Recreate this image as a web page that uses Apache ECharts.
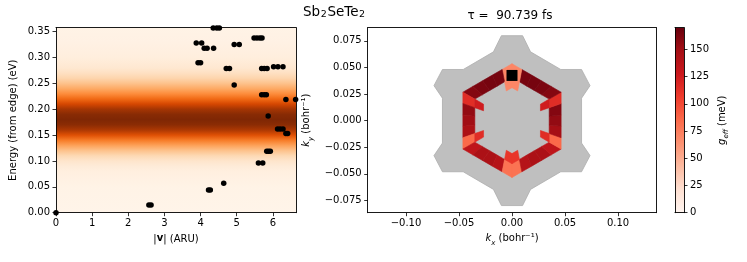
<!DOCTYPE html>
<html><head><meta charset="utf-8">
<script src="https://cdn.jsdelivr.net/npm/echarts@6/dist/echarts.min.js"></script>
<style>html,body{margin:0;padding:0;background:#fff}#c{width:747px;height:262px}</style>
</head><body><div id="c"></div>
<script>
// ---------------- data ----------------
const speedTicks  = [0, 1, 2, 3, 4, 5, 6];
const energyTicks = [0, 0.05, 0.10, 0.15, 0.20, 0.25, 0.30, 0.35];
const kxTicks     = [-0.10, -0.05, 0, 0.05, 0.10];
const kyTicks     = [-0.075, -0.05, -0.025, 0, 0.025, 0.05, 0.075];
const gTicks      = [0, 25, 50, 75, 100, 125, 150];

// |v| (ARU) and energy (eV) of the states (black dots)
const stateSpeed  = [0.0, 2.57, 2.63, 4.22, 4.27, 4.64, 5.60, 5.72, 5.83, 5.88, 5.93,
                     6.13, 6.20, 6.28, 6.36, 6.41, 5.87, 6.36, 6.63, 5.69, 5.76, 5.82,
                     4.93, 4.71, 4.80, 5.69, 5.76, 5.84, 6.02, 6.14, 6.28, 3.93, 4.00,
                     4.10, 4.18, 4.36, 3.88, 4.03, 4.93, 5.07, 5.48, 5.56, 5.64, 5.70,
                     4.35, 4.45, 4.52];
const stateEnergy = [0.0, 0.015, 0.015, 0.044, 0.044, 0.057, 0.096, 0.096, 0.119, 0.119, 0.119,
                     0.162, 0.162, 0.162, 0.153, 0.153, 0.187, 0.219, 0.219, 0.228, 0.228, 0.228,
                     0.247, 0.279, 0.279, 0.279, 0.279, 0.279, 0.282, 0.282, 0.282, 0.290, 0.290,
                     0.318, 0.318, 0.318, 0.328, 0.328, 0.325, 0.325, 0.338, 0.338, 0.338, 0.338,
                     0.357, 0.357, 0.357];

// background band intensity (0..1 of the Oranges map) vs energy
const bandEnergy = [0, 0.05, 0.08, 0.09, 0.10, 0.11, 0.12, 0.13, 0.14, 0.15, 0.16, 0.17, 0.18,
                    0.19, 0.20, 0.21, 0.22, 0.23, 0.24, 0.25, 0.26, 0.27, 0.28, 0.30, 0.33, 0.358];
const bandLevel  = [0.01, 0.02, 0.05, 0.08, 0.13, 0.20, 0.30, 0.42, 0.56, 0.72, 0.86, 0.96, 1.0,
                    0.97, 0.88, 0.76, 0.62, 0.50, 0.39, 0.30, 0.22, 0.16, 0.11, 0.06, 0.03, 0.02];

// grey k-space region outline (bohr^-1)
const bzKx = [-0.0100, -0.0175, -0.0460, -0.0656, -0.0736, -0.0656, -0.0656, -0.0736, -0.0656, -0.0460, -0.0175, -0.0100,
               0.0100,  0.0175,  0.0460,  0.0656,  0.0736,  0.0656,  0.0656,  0.0736,  0.0656,  0.0460,  0.0175,  0.0100];
const bzKy = [ 0.0799,  0.0647,  0.0481,  0.0481,  0.0329,  0.0211, -0.0211, -0.0329, -0.0481, -0.0481, -0.0647, -0.0799,
              -0.0799, -0.0647, -0.0481, -0.0481, -0.0329, -0.0211,  0.0211,  0.0329,  0.0481,  0.0481,  0.0647,  0.0799];

// g_eff (meV) on the hexagonal ring: 6 edges x 5 segments, outer and inner layer
const ringOuter = [
  [70, 165, 165, 163, 160],
  [115, 155, 150, 145, 85],
  [135, 145, 145, 140, 80],
  [80, 140, 145, 145, 135],
  [85, 148, 155, 160, 115],
  [160, 163, 165, 165, 70]
];
const ringInner = [
  [70, null, null, null, null],
  [125, null, null, null, 115],
  [null, null, null, null, 110],
  [110, null, null, null, null],
  [115, null, null, null, 125],
  [null, null, null, null, 70]
];
const ringRadius = [0.031, 0.0405, 0.0535];
const markKx = [0.0];
const markKy = [0.0425];
const tauFs = '90.739';
const gMax = 170;

// ---------------- helpers ----------------
const ORANGES = ['#fff5eb','#fee6ce','#fdd0a2','#fdae6b','#fd8d3c','#f16913','#d94801','#a63603','#7f2704'];
const REDS    = ['#fff5f0','#fee0d2','#fcbba1','#fc9272','#fb6a4a','#ef3b2c','#cb181d','#a50f15','#67000d'];
function h2r(h){return [parseInt(h.slice(1,3),16),parseInt(h.slice(3,5),16),parseInt(h.slice(5,7),16)];}
function cmap(stops,t){
  t=Math.max(0,Math.min(1,t)); const n=stops.length-1; const f=t*n;
  const i=Math.min(Math.floor(f),n-1); const u=f-i; const a=h2r(stops[i]), b=h2r(stops[i+1]);
  return 'rgb('+a.map((v,k)=>Math.round(v+(b[k]-v)*u)).join(',')+')';
}
const FONT='DejaVu Sans';
const minus = s => s.replace('-', '\u2212');

const X0MAX = 6.64, Y0MAX = 0.3577;
const KXMIN=-0.1361, KXMAX=0.1361, KYMIN=-0.0866, KYMAX=0.0874;

const lineStyle = {color:'#000', width:0.9};
const tickStyle = {show:true, length:3.5, inside:false, lineStyle:{color:'#000', width:0.8}};
const lab = {color:'#000', fontSize:10, fontFamily:FONT};
const nameStyle = {color:'#000', fontSize:10, fontFamily:FONT,
  rich:{
    i:{fontStyle:'italic', fontSize:10, fontFamily:FONT, lineHeight:12, verticalAlign:'top'},
    n:{fontSize:10, fontFamily:FONT, lineHeight:12, verticalAlign:'top'},
    s:{fontStyle:'italic', fontSize:7, fontFamily:FONT, lineHeight:8, padding:[6,0,0,0], verticalAlign:'top'},
    b:{fontWeight:'bold', fontSize:10, fontFamily:FONT, lineHeight:12, verticalAlign:'top'}
  }};
function dummy(grid, pos){
  return {type:'value', gridIndex:grid, position:pos, min:0, max:1, z:10,
    axisLine:{show:true, onZero:false, lineStyle}, axisTick:{show:false}, axisLabel:{show:false}, splitLine:{show:false}};
}

// ---------------- chart ----------------
const chart = echarts.init(document.getElementById('c'), null, {renderer:'canvas'});

const bandStops = [];
for (let k=bandEnergy.length-1;k>=0;k--) {
  bandStops.push({offset:Math.max(0,Math.min(1,(Y0MAX-bandEnergy[k])/Y0MAX)), color:cmap(ORANGES,bandLevel[k])});
}
const cbStops = REDS.map((c,k)=>({offset:1-k/(REDS.length-1), color:c})).reverse();

const ringData = [];
ringOuter.forEach((row,e)=>row.forEach((g,s)=>{ if(g!=null) ringData.push([e,s,0,g]); }));
ringInner.forEach((row,e)=>row.forEach((g,s)=>{ if(g!=null) ringData.push([e,s,1,g]); }));

const option = {
  animation:false,
  graphic:[
    {type:'text', left:303, top:5, style:{text:'Sb{s|2}SeTe{s|2}', fill:'#000', font:'13.5px "DejaVu Sans"',
      rich:{s:{fontSize:9.5, fontFamily:FONT, padding:[6,0.8,0,0.5]}}}},
    {type:'text', x:510, y:16, style:{text:'\u03c4 =  '+tauFs+' fs', fill:'#000', font:'12px "DejaVu Sans"', align:'center', verticalAlign:'middle'}}
  ],
  grid:[
    {left:56, top:27.7, width:240, height:185},
    {left:367.7, top:27.7, width:288.6, height:185},
    {left:675, top:27.7, width:9, height:185}
  ],
  xAxis:[
    {type:'value', gridIndex:0, min:0, max:X0MAX, z:10,
      name:'|{b|v}| (ARU)', nameLocation:'middle', nameGap:21, nameTextStyle:nameStyle,
      axisLine:{show:true,onZero:false,lineStyle}, axisTick:Object.assign({customValues:speedTicks},tickStyle),
      axisLabel:Object.assign({customValues:speedTicks, margin:6, formatter:v=>String(Math.round(v))},lab), splitLine:{show:false}},
    dummy(0,'top'),
    {type:'value', gridIndex:1, min:KXMIN, max:KXMAX, z:10,
      name:'{i|k}{s|x}{n| (bohr\u207b\u00b9)}', nameLocation:'middle', nameGap:20, nameTextStyle:nameStyle,
      axisLine:{show:true,onZero:false,lineStyle}, axisTick:Object.assign({customValues:kxTicks},tickStyle),
      axisLabel:Object.assign({customValues:kxTicks, margin:6, formatter:v=>minus(v.toFixed(2))},lab), splitLine:{show:false}},
    dummy(1,'top'),
    dummy(2,'bottom'),
    dummy(2,'top')
  ],
  yAxis:[
    {type:'value', gridIndex:0, min:0, max:Y0MAX, z:10,
      name:'Energy (from edge) (eV)', nameLocation:'middle', nameGap:38, nameTextStyle:nameStyle,
      axisLine:{show:true,onZero:false,lineStyle}, axisTick:Object.assign({customValues:energyTicks},tickStyle),
      axisLabel:Object.assign({customValues:energyTicks, margin:6, formatter:v=>v.toFixed(2)},lab), splitLine:{show:false}},
    dummy(0,'right'),
    {type:'value', gridIndex:1, min:KYMIN, max:KYMAX, z:10,
      name:'{i|k}{s|y}{n| (bohr\u207b\u00b9)}', nameLocation:'middle', nameGap:54, nameTextStyle:nameStyle,
      axisLine:{show:true,onZero:false,lineStyle}, axisTick:Object.assign({customValues:kyTicks},tickStyle),
      axisLabel:Object.assign({customValues:kyTicks, margin:6, formatter:v=>minus(v.toFixed(3))},lab), splitLine:{show:false}},
    dummy(1,'right'),
    {type:'value', gridIndex:2, position:'right', min:0, max:gMax, z:10,
      name:'{i|g}{s|eff}{n| (meV)}', nameLocation:'middle', nameGap:33, nameRotate:90, nameTextStyle:nameStyle,
      axisLine:{show:true,onZero:false,lineStyle}, axisTick:Object.assign({customValues:gTicks},tickStyle),
      axisLabel:Object.assign({customValues:gTicks, margin:6, formatter:v=>String(Math.round(v))},lab), splitLine:{show:false}},
    dummy(2,'left')
  ],
  series:[
    {type:'custom', xAxisIndex:0, yAxisIndex:0, data:[[0,0]], silent:true, z:1,
      renderItem:(p,api)=>{
        const a=api.coord([0,Y0MAX]), b=api.coord([X0MAX,0]);
        return {type:'rect', shape:{x:a[0],y:a[1],width:b[0]-a[0],height:b[1]-a[1]},
          style:{fill:new echarts.graphic.LinearGradient(0,0,0,1,bandStops)}};
      }},
    {type:'scatter', xAxisIndex:0, yAxisIndex:0, symbolSize:5.5, z:3,
      itemStyle:{color:'#000', opacity:1}, data:stateSpeed.map((v,i)=>[v,stateEnergy[i]])},
    {type:'custom', xAxisIndex:2, yAxisIndex:2, data:[[0,0]], silent:true, z:1,
      renderItem:(p,api)=>({type:'polygon', shape:{points:bzKx.map((x,i)=>api.coord([x,bzKy[i]]))},
        style:{fill:'#bfbfbf', stroke:'#adadad', lineWidth:0.8}})},
    {type:'custom', xAxisIndex:2, yAxisIndex:2, data:ringData, silent:true, z:2,
      renderItem:(p,api)=>{
        const e=api.value(0), s=api.value(1), layer=api.value(2), g=api.value(3);
        const r0 = layer===0 ? ringRadius[1] : ringRadius[0];
        const r1 = layer===0 ? ringRadius[2] : ringRadius[1];
        const S = ringOuter[0].length;
        const t0=s/S, t1=(s+1)/S;
        const a0=(90+60*e)*Math.PI/180, a1=(90+60*(e+1))*Math.PI/180;
        const P=(t,r)=>api.coord([r*((1-t)*Math.cos(a0)+t*Math.cos(a1)), r*((1-t)*Math.sin(a0)+t*Math.sin(a1))]);
        const c=cmap(REDS,g/gMax);
        return {type:'polygon', shape:{points:[P(t0,r1),P(t1,r1),P(t1,r0),P(t0,r0)]}, style:{fill:c, stroke:c, lineWidth:0.6}};
      }},
    {type:'scatter', xAxisIndex:2, yAxisIndex:2, symbol:'rect', symbolSize:11, z:4,
      itemStyle:{color:'#000', opacity:1}, data:markKx.map((x,i)=>[x,markKy[i]])},
    {type:'custom', xAxisIndex:4, yAxisIndex:4, data:[[0,0]], silent:true, z:1,
      renderItem:(p,api)=>{
        const a=api.coord([0,gMax]), b=api.coord([1,0]);
        return {type:'rect', shape:{x:a[0],y:a[1],width:b[0]-a[0],height:b[1]-a[1]},
          style:{fill:new echarts.graphic.LinearGradient(0,0,0,1,cbStops)}};
      }}
  ]
};
chart.setOption(option);
</script></body></html>
